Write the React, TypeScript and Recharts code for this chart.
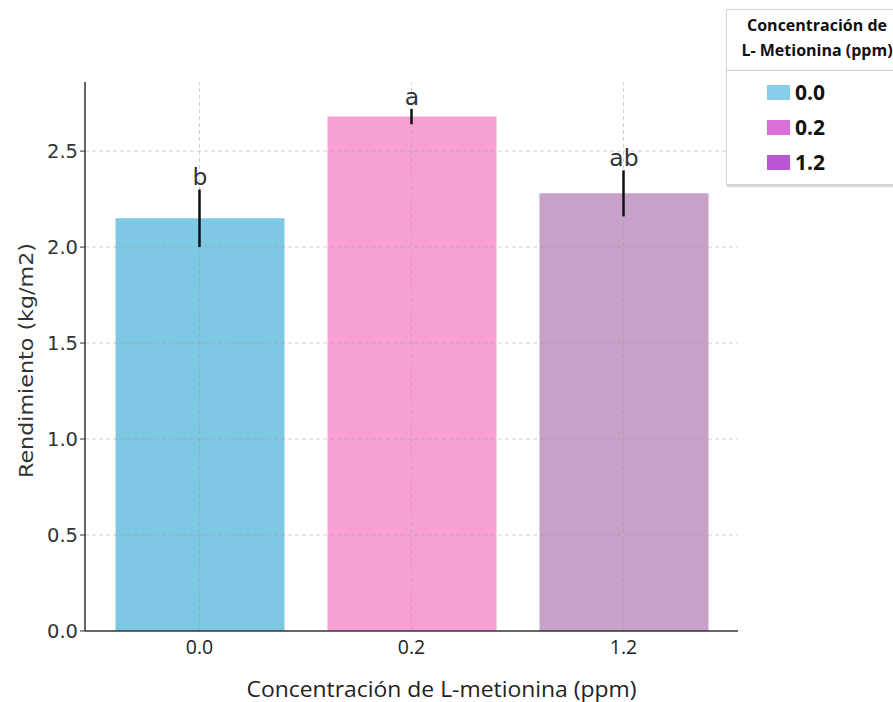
import React from 'react';
import {
  BarChart,
  Bar,
  XAxis,
  YAxis,
  Cell,
  LabelList,
  ReferenceLine
} from 'recharts';

const categories = ['0.0', '0.2', '1.2'];
const rendimiento = [2.15, 2.68, 2.28];
const desviacion = [0.15, 0.04, 0.12];
const letras = ['b', 'a', 'ab'];
const barColors = ['#7EC8E3', '#F6A0D4', '#C8A1C9'];
const legendColors = ['#87CEEB', '#DA70D6', '#BA55D3'];
const yTicks = [0, 0.5, 1.0, 1.5, 2.0, 2.5];

const data = categories.map((c, i) => ({
  dosis: c,
  valor: rendimiento[i],
  err: desviacion[i],
  letra: letras[i]
}));

const W = 893;
const H = 702;

const gridStroke = '#9a9a9a';
const mplFont = "'DejaVu Sans', sans-serif";
const sansFont = "'Open Sans', 'Noto Sans', sans-serif";

// letter placed just above the whisker of each bar
const LetterLabel = (props: any) => {
  const { x, y, width, height, index } = props;
  const d = data[index];
  const pxPerUnit = height / d.valor;
  const top = y - d.err * pxPerUnit;
  return (
    <text
      x={x + width / 2}
      y={top - 4}
      textAnchor="middle"
      fill="#333"
      fontSize={23.5}
      fontFamily={mplFont}
    >
      {d.letra}
    </text>
  );
};

const XTick = (props: any) => {
  const { x, y, payload } = props;
  return (
    <text
      x={x}
      y={y + 15}
      textAnchor="middle"
      fill="#222"
      fontSize={19.5}
      fontFamily={sansFont}
    >
      {payload.value}
    </text>
  );
};

const XTitle = (props: any) => {
  const { viewBox } = props;
  return (
    <text
      x={viewBox.x + viewBox.width / 2 + 30}
      y={H - 5}
      textAnchor="middle"
      fill="#222"
      fontSize={21.5}
      fontFamily={sansFont}
      textLength={390}
      lengthAdjust="spacingAndGlyphs"
    >
      Concentración de L-metionina (ppm)
    </text>
  );
};

const YTitle = (props: any) => {
  const { viewBox } = props;
  const cx = 26;
  const cy = viewBox.y + viewBox.height / 2 + 4;
  return (
    <text
      x={cx}
      y={cy}
      transform={`rotate(-90 ${cx} ${cy})`}
      textAnchor="middle"
      dominantBaseline="central"
      fill="#333"
      fontSize={19}
      fontFamily={mplFont}
      textLength={235}
      lengthAdjust="spacingAndGlyphs"
    >
      Rendimiento (kg/m2)
    </text>
  );
};

const LegendBox = () => (
  <div
    style={{
      position: 'absolute',
      left: 726,
      top: 9,
      width: 180,
      height: 174,
      background: '#fff',
      border: '1px solid #d4d4d4',
      boxShadow: '1px 2px 2px rgba(0,0,0,0.18)',
      fontFamily: sansFont,
      color: '#111'
    }}
  >
    <div
      style={{
        height: 61,
        borderBottom: '1px solid #cfcfcf',
        textAlign: 'center',
        fontWeight: 700,
        fontSize: 16,
        lineHeight: '25px',
        paddingTop: 3,
        boxSizing: 'border-box',
        whiteSpace: 'nowrap'
      }}
    >
      <div>Concentración de</div>
      <div>L- Metionina (ppm)</div>
    </div>
    {categories.map((c, i) => (
      <div
        key={c}
        style={{
          position: 'absolute',
          left: 40,
          top: 69 + i * 35,
          height: 26,
          display: 'flex',
          alignItems: 'center'
        }}
      >
        <span
          style={{
            display: 'inline-block',
            width: 23,
            height: 15,
            background: legendColors[i],
            marginRight: 5
          }}
        />
        <span style={{ fontWeight: 700, fontSize: 21 }}>{c}</span>
      </div>
    ))}
  </div>
);

export default function App() {
  return (
    <div
      style={{
        position: 'absolute',
        left: 0,
        top: 0,
        width: W,
        height: H,
        overflow: 'hidden',
        background: '#fff'
      }}
    >
      <BarChart
        width={W}
        height={H}
        data={data}
        margin={{ top: 82, right: 155, bottom: 0, left: 0 }}
      >
        <XAxis
          dataKey="dosis"
          padding={{ left: 8.5, right: 8.5 }}
          height={71}
          axisLine={{ stroke: '#333', strokeWidth: 1.5 }}
          tickLine={false}
          tick={<XTick />}
          label={{ content: XTitle }}
        />
        <YAxis
          width={85}
          domain={[0, 2.86]}
          ticks={yTicks}
          tickFormatter={(v: number) => v.toFixed(1)}
          axisLine={{ stroke: '#333', strokeWidth: 1.5 }}
          tickLine={{ stroke: '#333' }}
          tickSize={5}
          tick={{ fill: '#333', fontSize: 19.5, fontFamily: mplFont }}
          label={{ content: YTitle }}
        />
        <Bar dataKey="valor" barSize={169} isAnimationActive={false}>
          {data.map((d, i) => (
            <Cell key={d.dosis} fill={barColors[i]} />
          ))}
          <LabelList dataKey="letra" content={<LetterLabel />} />
        </Bar>
        {yTicks.slice(1).map((t) => (
          <ReferenceLine
            key={`h${t}`}
            y={t}
            stroke={gridStroke}
            strokeOpacity={0.45}
            strokeDasharray="4 3"
          />
        ))}
        {categories.map((c) => (
          <ReferenceLine
            key={`v${c}`}
            x={c}
            stroke={gridStroke}
            strokeOpacity={0.45}
            strokeDasharray="4 3"
          />
        ))}
        {/* whiskers: mean ± error, drawn over the grid */}
        {data.map((d) => (
          <ReferenceLine
            key={`e${d.dosis}`}
            segment={[
              { x: d.dosis, y: d.valor - d.err },
              { x: d.dosis, y: d.valor + d.err }
            ]}
            stroke="#111"
            strokeWidth={2.5}
          />
        ))}
      </BarChart>
      <LegendBox />
    </div>
  );
}
